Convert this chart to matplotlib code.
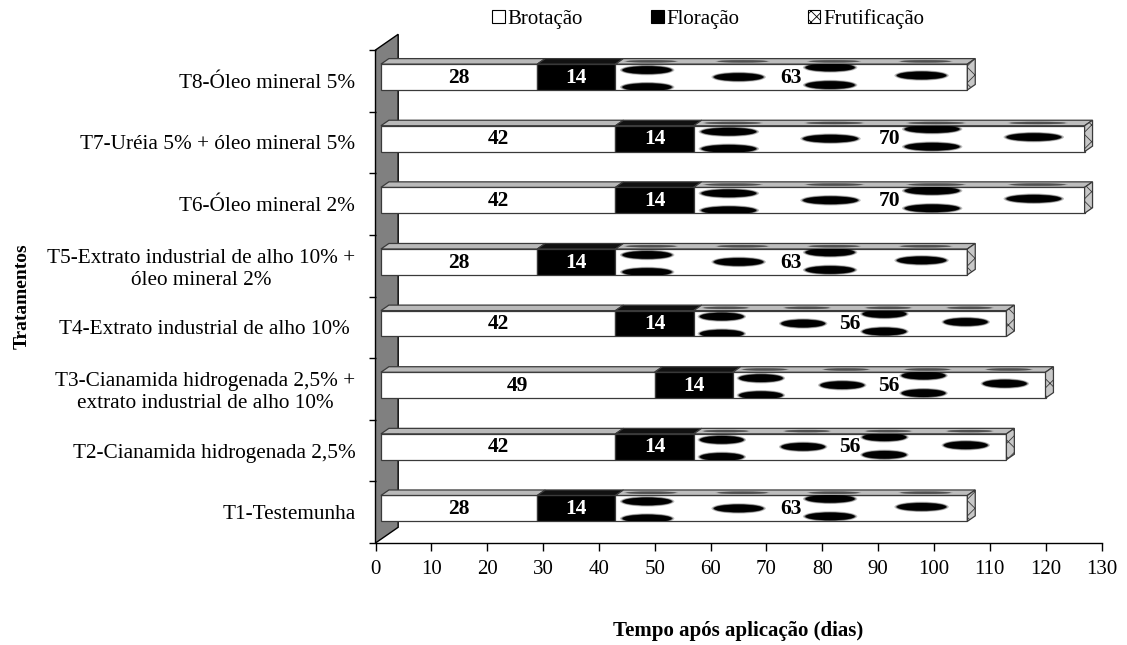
import matplotlib
matplotlib.use("Agg")
import matplotlib.pyplot as plt
from matplotlib.patches import Rectangle, Polygon, Ellipse, Patch
import numpy as np

plt.rcParams['font.family'] = ['Liberation Serif', 'DejaVu Serif']
plt.rcParams['hatch.linewidth'] = 0.6

# Treatments (bottom to top) and phase durations in days
treatments = [
    "T1-Testemunha",
    "T2-Cianamida hidrogenada 2,5%",
    "T3-Cianamida hidrogenada 2,5% +\nextrato industrial de alho 10%",
    "T4-Extrato industrial de alho 10% ",
    "T5-Extrato industrial de alho 10% +\nóleo mineral 2%",
    "T6-Óleo mineral 2%",
    "T7-Uréia 5% + óleo mineral 5%",
    "T8-Óleo mineral 5%",
]
brotacao = [28, 42, 49, 42, 28, 42, 42, 28]
floracao = [14, 14, 14, 14, 14, 14, 14, 14]
frutificacao = [63, 56, 56, 56, 63, 70, 70, 63]
phases = ["Brotação", "Floração", "Frutificação"]
xticks = list(range(0, 131, 10))

W, H = 1127, 645
fig = plt.figure(figsize=(W / 100, H / 100), dpi=100)
ax = fig.add_axes([375.5 / W, (H - 543) / H, 726 / W, 493 / H])
ax.set_xlim(0, 130)
ax.set_ylim(0, 8)

# 3-D projection: full depth of the plot box, in data units
DX, DY = 4.06, 0.255
f0, f1 = 0.24, 0.59          # front / back depth of the bars
ox0, oy0 = f0 * DX, f0 * DY
ox1, oy1 = f1 * DX, f1 * DY
bh = 0.42                    # bar height (category units)
edge = '#3a3a3a'

# Back wall on the left
wall = Polygon([(0, 0), (DX, DY), (DX, 8 + DY), (0, 8)], closed=True,
               facecolor='#808080', edgecolor='black', lw=1.0,
               clip_on=False, zorder=1)
ax.add_patch(wall)


def segment(x0, x1, yc, front_fc, top_fc, z):
    yb = yc + oy0 - bh / 2
    yt = yc + oy0 + bh / 2
    front = Rectangle((x0 + ox0, yb), x1 - x0, bh, facecolor=front_fc,
                      edgecolor=edge, lw=0.9, clip_on=False, zorder=z)
    ax.add_patch(front)
    top = Polygon([(x0 + ox0, yt), (x1 + ox0, yt),
                   (x1 + ox1, yt + (oy1 - oy0)), (x0 + ox1, yt + (oy1 - oy0))],
                  closed=True, facecolor=top_fc, edgecolor=edge, lw=0.9,
                  clip_on=False, zorder=z)
    ax.add_patch(top)
    return front, top


def blob(xc, yc, w, h, clip, z, color='black'):
    for scale, alpha in ((1.35, 0.25), (1.15, 0.5), (1.0, 1.0)):
        e = Ellipse((xc, yc), w * (1 + (scale - 1) * 0.3), h * scale,
                    facecolor=color, edgecolor='none', alpha=alpha,
                    zorder=z)
        ax.add_patch(e)
        e.set_clip_path(clip)


# pattern of the fruiting fill: (fraction along segment, offsets in bar heights)
pattern = [(0.09, [0.27, -0.39]), (0.35, [0.0]),
           (0.61, [0.37, -0.31]), (0.87, [0.06])]

for i in range(len(treatments)):
    yc = i + 0.5
    b, f, r = brotacao[i], floracao[i], frutificacao[i]
    s0, s1, s2, s3 = 0, b, b + f, b + f + r
    z = 3
    segment(s0, s1, yc, 'white', '#b9b9b9', z)
    segment(s1, s2, yc, 'black', '#111111', z)
    front, top = segment(s2, s3, yc, 'white', '#bdbdbd', z)

    # spotted fill on the fruiting segment
    for frac, offs in pattern:
        xc = s2 + ox0 + frac * r
        w = 0.14 * r
        for o in offs:
            blob(xc, yc + oy0 + o * bh, w, 0.125, front, z + 0.5)
        blob(xc + (ox1 - ox0) / 2, yc + (oy0 + oy1) / 2 + bh / 2, w, 0.035,
             top, z + 0.5, color='#505050')

    # right end face
    yb = yc + oy0 - bh / 2
    yt = yc + oy0 + bh / 2
    side = Polygon([(s3 + ox0, yb), (s3 + ox1, yb + (oy1 - oy0)),
                    (s3 + ox1, yt + (oy1 - oy0)), (s3 + ox0, yt)],
                   closed=True, facecolor='#c8c8c8', edgecolor=edge, lw=0.9,
                   hatch='xx', clip_on=False, zorder=z + 1)
    ax.add_patch(side)

    # value labels on the front faces
    ty = yc + oy0 - 0.01
    ax.text(s0 + ox0 + b / 2, ty, f"{b}", ha='center', va='center',
            fontsize=15.5, fontweight='bold', color='black', zorder=10)
    ax.text(s1 + ox0 + f / 2, ty, f"{f}", ha='center', va='center',
            fontsize=15.5, fontweight='bold', color='white', zorder=10)
    ax.text(s2 + ox0 + r / 2, ty, f"{r}", ha='center', va='center',
            fontsize=15.5, fontweight='bold', color='black', zorder=10)

# Axes styling
for sp in ('top', 'right'):
    ax.spines[sp].set_visible(False)
ax.spines['left'].set_visible(False)
ax.spines['bottom'].set_linewidth(1.0)
ax.spines['bottom'].set_zorder(5)

ax.set_xticks(xticks)
ax.set_xticklabels([str(t) for t in xticks], fontsize=15)
ax.tick_params(axis='x', direction='out', length=6, width=1.0, pad=6)

ax.set_yticks(np.arange(len(treatments)) + 0.5)
ax.set_yticklabels(treatments, fontsize=15.3)
ax.set_yticks(np.arange(0, 9), minor=True)
ax.tick_params(axis='y', which='major', length=0, pad=14.5)
ax.tick_params(axis='y', which='minor', direction='out', length=5, width=1.0)
for lab in ax.get_yticklabels():
    lab.set_multialignment('center')

ax.set_xlabel("Tempo após aplicação (dias)", fontsize=15, fontweight='bold')
ax.xaxis.set_label_coords(0.5, -0.158)
ax.set_ylabel("Tratamentos", fontsize=14, fontweight='bold')
ax.yaxis.set_label_coords(-0.475, 0.5)

handles = [Patch(facecolor='white', edgecolor='black', lw=0.8),
           Patch(facecolor='black', edgecolor='black', lw=0.8),
           Patch(facecolor='white', edgecolor='black', lw=0.8, hatch='xxx')]
fig.legend(handles, phases, loc='upper center', bbox_to_anchor=(708 / W, 1.005),
           ncol=3, frameon=False, fontsize=15, handlelength=0.6,
           handleheight=0.6, handletextpad=0.12, columnspacing=3.3,
           borderaxespad=0.2)

fig.savefig("out.png", dpi=100)
